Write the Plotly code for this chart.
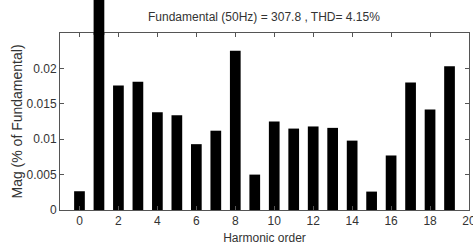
import plotly.graph_objects as go

harmonic_order = list(range(20))
magnitude = [0.00265, 0.0300, 0.0176, 0.0181, 0.0138, 0.0134, 0.0093, 0.0112, 0.0225, 0.0050,
             0.0125, 0.0115, 0.0118, 0.0116, 0.0098, 0.0026, 0.0077, 0.0180, 0.0142, 0.0203]
y_tick_vals = [0, 0.005, 0.01, 0.015, 0.02]
y_tick_text = ["0", "0.005", "0.01", "0.015", "0.02"]
x_tick_vals = [0, 2, 4, 6, 8, 10, 12, 14, 16, 18, 20]
title_text = "Fundamental (50Hz) = 307.8 , THD= 4.15%"

x_range = [-1, 20]
y_range = [0, 0.025]
bar_width = 0.55

font_family = "Liberation Sans Narrow, Arial Narrow, Liberation Sans, Arial, sans-serif"

fig = go.Figure(go.Bar(
    x=harmonic_order, y=magnitude, width=bar_width,
    marker=dict(color="black", line=dict(width=0)),
))

# Bars exceeding the axis range overflow above the frame (as in the original figure)
xspan = x_range[1] - x_range[0]
for h, v in zip(harmonic_order, magnitude):
    if v > y_range[1]:
        fig.add_shape(
            type="rect", xref="paper", yref="paper",
            x0=(h - bar_width / 2 - x_range[0]) / xspan,
            x1=(h + bar_width / 2 - x_range[0]) / xspan,
            y0=0.99, y1=v / y_range[1],
            fillcolor="black", line=dict(width=0), layer="above",
        )

axis_common = dict(
    showline=True, linecolor="#555555", linewidth=1, mirror="ticks",
    ticks="inside", ticklen=4, tickcolor="#555555", showgrid=False, zeroline=False,
    automargin=False,
    tickfont=dict(size=12, color="#333333", family=font_family),
)

fig.update_layout(
    width=473, height=252,
    margin=dict(l=60, r=4, t=33, b=42),
    paper_bgcolor="white", plot_bgcolor="white",
    showlegend=False,
    font=dict(family=font_family, color="#333333"),
    title=dict(text=title_text, x=0.558, xanchor="center", y=0.935, yanchor="middle",
               font=dict(size=12, color="#333333", family=font_family)),
    xaxis=dict(range=x_range, tickvals=x_tick_vals, ticklabeloverflow="allow",
               title=dict(text="Harmonic order", standoff=6,
                          font=dict(size=12, color="#333333", family=font_family)),
               **axis_common),
    yaxis=dict(range=y_range, tickvals=y_tick_vals, ticktext=y_tick_text,
               title=dict(text="Mag (% of Fundamental)", standoff=0,
                          font=dict(size=14, color="#333333", family=font_family)),
               **axis_common),
)

fig.write_html(
    "out.html",
    config={"displayModeBar": False},
    post_script="document.body.style.margin='0';document.body.style.overflow='hidden';",
)
